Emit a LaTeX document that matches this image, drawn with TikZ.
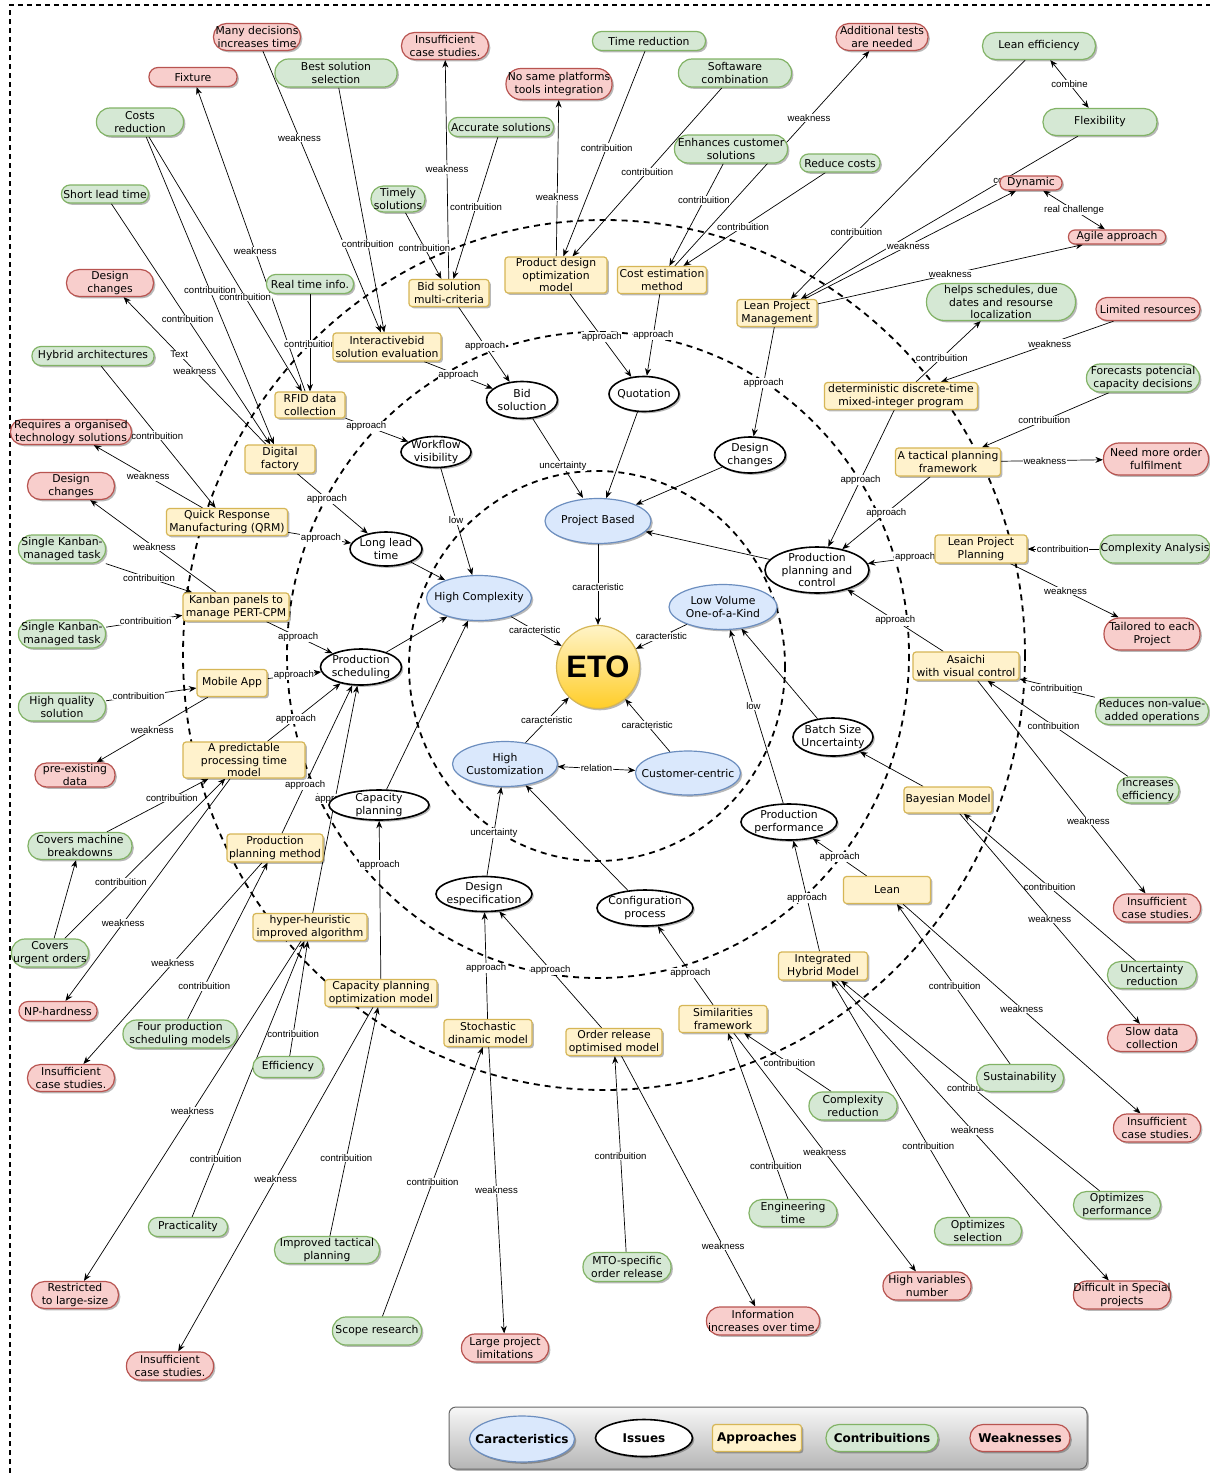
\documentclass[tikz,border=0pt]{standalone}
\usepackage{fontspec}
\setmainfont{DejaVu Sans}
\newfontfamily\lblfamily{Liberation Sans}
\usetikzlibrary{shapes.geometric,arrows.meta,shadows,backgrounds}
\definecolor{cBlueF}{HTML}{DAE8FC}
\definecolor{cBlueD}{HTML}{6C8EBF}
\definecolor{cGreF}{HTML}{D5E8D4}
\definecolor{cGreD}{HTML}{82B366}
\definecolor{cRedF}{HTML}{F8CECC}
\definecolor{cRedD}{HTML}{B85450}
\definecolor{cYelF}{HTML}{FFF2CC}
\definecolor{cYelD}{HTML}{D6B656}
\definecolor{cEtoT}{HTML}{FFF4C8}
\definecolor{cEtoB}{HTML}{FFCD28}
\definecolor{cEtoD}{HTML}{D6B656}
\definecolor{cLegT}{HTML}{F7F7F7}
\definecolor{cLegB}{HTML}{B5B5B5}
\definecolor{cLegD}{HTML}{666666}
\pgfdeclarelayer{circ}
\pgfdeclarelayer{edges}
\pgfsetlayers{circ,edges,main}
\newcommand\mynodefont{\fontsize{10.8}{12.4}\selectfont}
\newcommand\mylblfont{\lblfamily\fontsize{9.6}{10.5}\selectfont}
\newcommand\mylegfont{\bfseries\fontsize{12}{14}\selectfont}
\newcommand\myetofont{\lblfamily\bfseries\fontsize{31}{33}\selectfont}
\tikzset{
  basen/.style={font=\mynodefont, align=center, inner sep=0pt, text=black},
  shad/.style={drop shadow={shadow xshift=1.8pt, shadow yshift=-1.8pt, opacity=0.28, fill=black}},
  carac/.style 2 args={basen, ellipse, shad, fill=cBlueF, draw=cBlueD, line width=1.2pt, minimum width=#1pt, minimum height=#2pt, inner xsep=-22pt, inner ysep=-8pt},
  issue/.style 2 args={basen, ellipse, shad, fill=white, draw=black, line width=1.6pt, minimum width=#1pt, minimum height=#2pt, inner xsep=-22pt, inner ysep=-8pt},
  appr/.style 2 args={basen, rectangle, rounded corners=3pt, shad, fill=cYelF, draw=cYelD, line width=1.2pt, minimum width=#1pt, minimum height=#2pt, inner xsep=-5pt, inner ysep=-2pt},
  contr/.style 2 args={basen, rectangle, rounded corners=#2*0.5pt-0.5pt, shad, fill=cGreF, draw=cGreD, line width=1.2pt, minimum width=#1pt, minimum height=#2pt, inner xsep=-5pt, inner ysep=-2pt},
  weak/.style 2 args={basen, rectangle, rounded corners=#2*0.5pt-0.5pt, shad, fill=cRedF, draw=cRedD, line width=1.2pt, minimum width=#1pt, minimum height=#2pt, inner xsep=-5pt, inner ysep=-2pt},
  etonode/.style={circle, minimum size=83pt, inner sep=0pt, top color=cEtoT, bottom color=cEtoB, draw=cEtoD, line width=1.2pt, shad, font=\myetofont},
  legbox/.style={rectangle, rounded corners=7pt, minimum width=638pt, minimum height=62pt, top color=cLegT, bottom color=cLegB, draw=cLegD, line width=1pt, shad},
  ar/.style={line width=0.7pt, -{Stealth[length=7.5pt,width=6pt]}},
  arb/.style={line width=0.7pt, {Stealth[length=7.5pt,width=6pt]}-{Stealth[length=7.5pt,width=6pt]}},
  lbl/.style={font=\mylblfont, fill=white, inner sep=0.6pt, text=black},
  circd/.style={line width=1.8pt, dash pattern=on 6pt off 5pt},
  framed/.style={line width=1.4pt, dash pattern=on 5pt off 4pt},
}
\begin{document}
\begin{tikzpicture}[x=1pt,y=-1pt]
\useasboundingbox (0,0) rectangle (1210,1473);
\begin{pgfonlayer}{circ}
\fill[white] (0,0) rectangle (1210,1473);
\draw[framed] (10,1473) -- (10,5) -- (1210,5);
\draw[circd] (597,666) ellipse [x radius=188, y radius=195];
\draw[circd] (598,655) ellipse [x radius=311, y radius=323];
\draw[circd] (604,655) ellipse [x radius=421, y radius=435];
\end{pgfonlayer}

% ---------- characteristics ----------
\node[etonode] (eto) at (598,667) {ETO};
\node[carac={106}{45}] (pb) at (598,521) {Project Based};
\node[carac={105}{45}] (hc) at (479,598) {High Complexity};
\node[carac={108}{45}] (lv) at (723,607) {Low Volume\\One-of-a-Kind};
\node[carac={105}{45}] (hcu) at (505,764) {High\\Customization};
\node[carac={105}{44}] (cc) at (688,773) {Customer-centric};

% ---------- issues ----------
\node[issue={71}{37}] (bids) at (522,400) {Bid\\soluction};
\node[issue={70}{35}] (quot) at (644,394) {Quotation};
\node[issue={70}{31}] (wfv) at (436,452) {Workflow\\visibility};
\node[issue={71}{36}] (dci) at (750,455) {Design\\changes};
\node[issue={72}{34}] (llt) at (386,549) {Long lead\\time};
\node[issue={81}{36}] (ps) at (361,667) {Production\\scheduling};
\node[issue={104}{46}] (ppc) at (817,570) {Production\\planning and\\control};
\node[issue={80}{38}] (bsu) at (833,737) {Batch Size\\Uncertainty};
\node[issue={100}{30}] (cap) at (379,805) {Capacity\\planning};
\node[issue={96}{36}] (pp) at (789,822) {Production\\performance};
\node[issue={96}{35}] (de) at (484,894) {Design\\especification};
\node[issue={96}{36}] (cfg) at (645,908) {Configuration\\process};

% ---------- approaches ----------
\node[appr={108}{28}] (ibid) at (387,347) {Interactivebid\\solution evaluation};
\node[appr={80}{27}] (bmc) at (449,293) {Bid solution\\multi-criteria};
\node[appr={102}{36}] (pdo) at (556,275) {Product design\\optimization\\model};
\node[appr={89}{27}] (cem) at (662,280) {Cost estimation\\method};
\node[appr={80}{27}] (lpm) at (777,313) {Lean Project\\Management};
\node[appr={70}{26}] (rfid) at (310,405) {RFID data\\collection};
\node[appr={70}{28}] (df) at (280,459) {Digital\\factory};
\node[appr={121}{27}] (qrm) at (227,522) {Quick Response\\Manufacturing (QRM)};
\node[appr={106}{28}] (kan) at (236,607) {Kanban panels to\\manage PERT-CPM};
\node[appr={70}{27}] (mob) at (232,683) {Mobile App};
\node[appr={122}{36}] (pred) at (244,760) {A predictable\\processing time\\model};
\node[appr={96}{28}] (ppm) at (275,848) {Production\\planning method};
\node[appr={114}{27}] (hh) at (310,927) {hyper-heuristic\\improved algorithm};
\node[appr={112}{27}] (cpo) at (381,993) {Capacity planning\\optimization model};
\node[appr={88}{27}] (sdm) at (488,1033) {Stochastic\\dinamic model};
\node[appr={96}{27}] (orm) at (614,1042) {Order release\\optimised model};
\node[appr={88}{27}] (sim) at (723,1019) {Similarities\\framework};
\node[appr={89}{28}] (ihm) at (823,966) {Integrated\\Hybrid Model};
\node[appr={87}{27}] (lean) at (887,890) {Lean};
\node[appr={88}{26}] (bay) at (948,800) {Bayesian Model};
\node[appr={106}{28}] (asa) at (966,666) {Asaichi\\with visual control};
\node[appr={92}{28}] (lpp) at (981,549) {Lean Project\\Planning};
\node[appr={105}{28}] (tpf) at (948,462) {A tactical planning\\framework};
\node[appr={153}{27}] (ddt) at (901,396) {deterministic discrete-time\\mixed-integer program};

% ---------- contributions ----------
\node[contr={122}{28}] (bss) at (336,73) {Best solution\\selection};
\node[contr={87}{28}] (cr) at (140,122) {Costs\\reduction};
\node[contr={87}{18}] (slt) at (105,194) {Short lead time};
\node[contr={54}{26}] (ts) at (398,199) {Timely\\solutions};
\node[contr={87}{19}] (rti) at (310,284) {Real time info.};
\node[contr={122}{19}] (ha) at (93,356) {Hybrid architectures};
\node[contr={113}{19}] (tr) at (649,41) {Time reduction};
\node[contr={113}{28}] (sc) at (735,73) {Softaware\\combination};
\node[contr={105}{19}] (as) at (501,127) {Accurate solutions};
\node[contr={113}{28}] (ecs) at (731,149) {Enhances customer\\solutions};
\node[contr={80}{18}] (rc) at (840,163) {Reduce costs};
\node[contr={113}{27}] (le) at (1039,46) {Lean efficiency};
\node[contr={114}{27}] (flex) at (1100,122) {Flexibility};
\node[contr={149}{37}] (hs) at (1001,302) {helps schedules, due\\dates and resourse\\localization};
\node[contr={113}{28}] (fpc) at (1143,378) {Forecasts potencial\\capacity decisions};
\node[contr={110}{28}] (ca) at (1155,549) {Complexity Analysis};
\node[contr={113}{27}] (rnv) at (1152,711) {Reduces non-value-\\added operations};
\node[contr={62}{26}] (ie) at (1148,790) {Increases\\efficiency};
\node[contr={89}{27}] (ur) at (1152,975) {Uncertainty\\reduction};
\node[contr={87}{27}] (sus) at (1020,1078) {Sustainability};
\node[contr={88}{28}] (cxr) at (853,1106) {Complexity\\reduction};
\node[contr={87}{27}] (op) at (1117,1205) {Optimizes\\performance};
\node[contr={87}{27}] (os) at (978,1231) {Optimizes\\selection};
\node[contr={88}{27}] (et) at (793,1213) {Engineering\\time};
\node[contr={88}{29}] (mto) at (627,1267) {MTO-specific\\order release};
\node[contr={89}{28}] (scr) at (377,1331) {Scope research};
\node[contr={105}{27}] (itp) at (327,1250) {Improved tactical\\planning};
\node[contr={79}{19}] (prc) at (188,1227) {Practicality};
\node[contr={70}{21}] (eff) at (288,1067) {Efficiency};
\node[contr={114}{28}] (fps) at (180,1034) {Four production\\scheduling models};
\node[contr={77}{28}] (cuo) at (50,953) {Covers\\urgent orders};
\node[contr={104}{27}] (cmb) at (80,846) {Covers machine\\breakdowns};
\node[contr={87}{28}] (hqs) at (62,707) {High quality\\solution};
\node[contr={87}{28}] (sk1) at (62,549) {Single Kanban-\\managed task};
\node[contr={87}{28}] (sk2) at (62,634) {Single Kanban-\\managed task};

% ---------- weaknesses ----------
\node[weak={87}{27}] (mdi) at (257,37) {Many decisions\\increases time};
\node[weak={88}{19}] (fix) at (193,77) {Fixture};
\node[weak={87}{27}] (ics1) at (445,46) {Insufficient\\case studies.};
\node[weak={106}{31}] (nsp) at (559,84) {No same platforms\\tools integration};
\node[weak={92}{27}] (atn) at (882,37) {Additional tests\\are needed};
\node[weak={62}{14}] (dyn) at (1031,183) {Dynamic};
\node[weak={97}{14}] (agile) at (1117,237) {Agile approach};
\node[weak={104}{23}] (lr) at (1148,309) {Limited resources};
\node[weak={105}{32}] (nmo) at (1156,459) {Need more order\\fulfilment};
\node[weak={96}{32}] (tep) at (1152,634) {Tailored to each\\Project};
\node[weak={87}{28}] (ics2) at (1157,908) {Insufficient\\case studies.};
\node[weak={89}{27}] (sdc) at (1152,1038) {Slow data\\collection};
\node[weak={87}{28}] (ics3) at (1157,1128) {Insufficient\\case studies.};
\node[weak={97}{28}] (dsp) at (1122,1295) {Difficult in Special\\projects};
\node[weak={88}{28}] (hvn) at (927,1286) {High variables\\number};
\node[weak={113}{28}] (iot) at (763,1321) {Information\\increases over time.};
\node[weak={87}{28}] (lpl) at (505,1348) {Large project\\limitations};
\node[weak={87}{28}] (ics4) at (170,1366) {Insufficient\\case studies.};
\node[weak={87}{27}] (rls) at (75,1295) {Restricted\\to large-size};
\node[weak={87}{27}] (ics5) at (71,1078) {Insufficient\\case studies.};
\node[weak={78}{19}] (nph) at (58,1011) {NP-hardness};
\node[weak={80}{24}] (ped) at (75,775) {pre-existing\\data};
\node[weak={87}{27}] (dc2) at (71,486) {Design\\changes};
\node[weak={121}{25}] (rot) at (71,432) {Requires a organised\\technology solutions};
\node[weak={87}{27}] (dc1) at (110,283) {Design\\changes};

% ---------- legend ----------
\node[legbox] (leg) at (768,1438) {};
\node[carac={105}{46}, font=\mylegfont] (lgc) at (522,1439) {Caracteristics};
\node[issue={97}{37}, font=\mylegfont] (lgi) at (644,1438) {Issues};
\node[appr={89}{27}, font=\mylegfont] (lga) at (757,1438) {Approaches};
\node[contr={112}{27}, font=\mylegfont] (lgco) at (882,1438) {Contribuitions};
\node[weak={100}{27}, font=\mylegfont] (lgw) at (1020,1438) {Weaknesses};

\begin{pgfonlayer}{edges}
% centre
\draw[ar] (pb) -- node[lbl,pos=0.53]{caracteristic} (eto);
\draw[ar] (hc) -- node[lbl,pos=0.47]{caracteristic} (eto);
\draw[ar] (lv) -- node[lbl,pos=0.5]{caracteristic} (eto);
\draw[ar] (hcu) -- node[lbl,pos=0.49]{caracteristic} (eto);
\draw[ar] (cc) -- node[lbl,pos=0.51]{caracteristic} (eto);
\draw[arb] (hcu) -- node[lbl]{relation} (cc);
% issues to characteristics
\draw[ar] (bids.300) -- node[lbl,pos=0.6]{uncertainty} ([xshift=-15pt]pb.north);
\draw[ar] (quot) -- (pb);
\draw[ar] (dci) -- (pb);
\draw[ar] (ppc) -- (pb);
\draw[ar] (wfv) -- node[lbl,pos=0.49]{low} (hc);
\draw[ar] (llt) -- (hc);
\draw[ar] (ps) -- (hc);
\draw[ar] (cap) -- (hc);
\draw[ar] (de) -- node[lbl,pos=0.48]{uncertainty} (hcu);
\draw[ar] (cfg) -- (hcu);
\draw[ar] (pp) -- node[lbl,pos=0.56]{low} (lv);
\draw[ar] (bsu) -- (lv);
% approaches to issues
\draw[ar] (ibid) -- node[lbl,pos=0.5]{approach} (bids);
\draw[ar] (bmc) -- node[lbl,pos=0.52]{approach} (bids);
\draw[ar] (pdo) -- node[lbl,pos=0.52]{approach} (quot);
\draw[ar] (cem) -- node[lbl,pos=0.5]{approach} (quot);
\draw[ar] (lpm) -- node[lbl,pos=0.51]{approach} (dci);
\draw[ar] (rfid) -- node[lbl,pos=0.33]{approach} (wfv);
\draw[ar] (df) -- node[lbl,pos=0.42]{approach} (llt);
\draw[ar] (qrm) -- node[lbl,pos=0.52]{approach} (llt);
\draw[ar] (kan) -- node[lbl,pos=0.48]{approach} (ps);
\draw[ar] (mob) -- node[lbl,pos=0.49]{approach} (ps);
\draw[ar] (pred) -- node[lbl,pos=0.39]{approach} (ps);
\draw[ar] (ppm) -- node[lbl,pos=0.33]{approach} (ps);
\draw[ar] (hh) -- node[lbl,pos=0.5]{approach} (ps);
\draw[ar] (cpo) -- node[lbl,pos=0.72]{approach} (cap);
\draw[ar] (sdm) -- node[lbl,pos=0.48]{approach} (de);
\draw[ar] (orm) -- node[lbl,pos=0.5]{approach} (de);
\draw[ar] (sim) -- node[lbl,pos=0.41]{approach} (cfg);
\draw[ar] (ihm) -- node[lbl,pos=0.48]{approach} (pp);
\draw[ar] (lean) -- node[lbl,pos=0.5]{approach} (pp);
\draw[ar] (bay) -- (bsu);
\draw[ar] (asa) -- node[lbl,pos=0.5]{approach} (ppc);
\draw[ar] (lpp) -- node[lbl,pos=0.29]{approach} (ppc);
\draw[ar] (tpf) -- node[lbl,pos=0.5]{approach} (ppc);
\draw[ar] (ddt) -- node[lbl,pos=0.51]{approach} (ppc);
% contributions and weaknesses
\draw[ar] (mdi) -- node[lbl,pos=0.31]{weakness} (ibid);
\draw[ar] (bss) -- node[lbl,pos=0.64]{contribuition} (ibid);
\draw[ar] (rfid) -- node[lbl,pos=0.46]{weakness} (fix);
\draw[ar] (cr) -- node[lbl,pos=0.63]{contribuition} (rfid);
\draw[ar] (cr) -- node[lbl,pos=0.5]{contribuition} (df);
\draw[ar] (slt) -- node[lbl,pos=0.48]{contribuition} (df);
\draw[ar] (rti) -- node[lbl,pos=0.51]{contribuition} (rfid);
\draw[ar] (df) -- node[lbl,pos=0.5]{weakness} node[lbl,pos=0.61]{Text} (dc1);
\draw[ar] (ha) -- node[lbl,pos=0.49]{contribuition} (qrm);
\draw[ar] (qrm) -- node[lbl,pos=0.5]{weakness} (rot);
\draw[ar] (kan) -- node[lbl,pos=0.49]{weakness} (dc2);
\draw[ar] (sk1) -- node[lbl,pos=0.5]{contribuition} (kan);
\draw[ar] (sk2) -- node[lbl,pos=0.52]{contribuition} (kan);
\draw[ar] (hqs) -- node[lbl,pos=0.36]{contribuition} (mob);
\draw[ar] (mob) -- node[lbl,pos=0.5]{weakness} (ped);
\draw[ar] (cmb) -- node[lbl,pos=0.64]{contribuition} (pred);
\draw[ar] (cuo) -- (cmb);
\draw[ar] (cuo) -- node[lbl,pos=0.35]{contribuition} (pred);
\draw[ar] (pred) -- node[lbl,pos=0.65]{weakness} (nph);
\draw[ar] (ppm) -- node[lbl,pos=0.5]{weakness} (ics5);
\draw[ar] (fps) -- node[lbl,pos=0.21]{contribuition} (ppm);
\draw[ar] (eff) -- node[lbl,pos=0.19]{contribuition} (hh);
\draw[ar] (hh) -- node[lbl,pos=0.5]{weakness} (rls);
\draw[ar] (prc) -- node[lbl,pos=0.21]{contribuition} (hh);
\draw[ar] (cpo) -- node[lbl,pos=0.5]{weakness} (ics4);
\draw[ar] (itp) -- node[lbl,pos=0.34]{contribuition} (cpo);
\draw[ar] (scr) -- node[lbl,pos=0.5]{contribuition} (sdm);
\draw[ar] (sdm) -- node[lbl,pos=0.5]{weakness} (lpl);
\draw[ar] (mto) -- node[lbl,pos=0.49]{contribuition} (orm);
\draw[ar] (orm) -- node[lbl,pos=0.76]{weakness} (iot);
\draw[ar] (et) -- node[lbl,pos=0.2]{contribuition} (sim);
\draw[ar] (sim) -- node[lbl,pos=0.5]{weakness} (hvn);
\draw[ar] (cxr) -- node[lbl,pos=0.48]{contribuition} (sim);
\draw[ar] (sus) -- node[lbl,pos=0.49]{contribuition} (lean);
\draw[ar] (lean) -- node[lbl,pos=0.5]{weakness} (ics3);
\draw[ar] (os) -- node[lbl,pos=0.3]{contribuition} (ihm);
\draw[ar] (ihm) -- node[lbl,pos=0.5]{weakness} (dsp);
\draw[ar] (op) -- node[lbl,pos=0.49]{contribuition} (ihm);
\draw[ar] (rnv) -- node[lbl,pos=0.51]{contribuition} (asa);
\draw[ar] (ie) -- node[lbl,pos=0.53]{contribuition} (asa);
\draw[ar] (asa) -- node[lbl,pos=0.66]{weakness} (ics2);
\draw[ar] (ur) -- node[lbl,pos=0.5]{contribuition} (bay);
\draw[ar] (bay) -- node[lbl,pos=0.5]{weakness} (sdc);
\draw[ar] (ca) -- node[lbl,pos=0.51]{contribuition} (lpp);
\draw[ar] (lpp) -- node[lbl,pos=0.51]{weakness} (tep);
\draw[ar] (fpc) -- node[lbl,pos=0.51]{contribuition} (tpf);
\draw[ar] (tpf) -- node[lbl,pos=0.43]{weakness} (nmo);
\draw[ar] (ddt) -- node[lbl,pos=0.4]{contribuition} (hs);
\draw[ar] (lr) -- node[lbl,pos=0.37]{weakness} (ddt);
\draw[ar] (le) -- node[lbl,pos=0.72]{contribuition} (lpm);
\draw[ar] ([xshift=-22pt]flex.south) -- node[lbl,pos=0.27,xshift=16pt]{contribuition} (lpm);
\draw[ar] (lpm) -- node[lbl,pos=0.49]{weakness} (dyn);
\draw[ar] (lpm) -- node[lbl,pos=0.5]{weakness} (agile);
\draw[arb] (le) -- node[lbl]{combine} (flex);
\draw[arb] (dyn) -- node[lbl]{real challenge} (agile);
\draw[ar] (cem) -- node[lbl,pos=0.69]{weakness} (atn);
\draw[ar] (ecs) -- node[lbl,pos=0.36]{contribuition} (cem);
\draw[ar] (rc) -- node[lbl,pos=0.58]{contribuition} (cem);
\draw[ar] (tr) -- node[lbl,pos=0.47]{contribuition} (pdo);
\draw[ar] (sc) -- node[lbl,pos=0.5]{contribuition} (pdo);
\draw[ar] (pdo) -- node[lbl,pos=0.38]{weakness} (nsp);
\draw[ar] (bmc) -- node[lbl,pos=0.5]{weakness} (ics1);
\draw[ar] (as) -- node[lbl,pos=0.49]{contribuition} (bmc);
\draw[ar] (ts) -- node[lbl,pos=0.53]{contribuition} (bmc);
\end{pgfonlayer}
\end{tikzpicture}
\end{document}
